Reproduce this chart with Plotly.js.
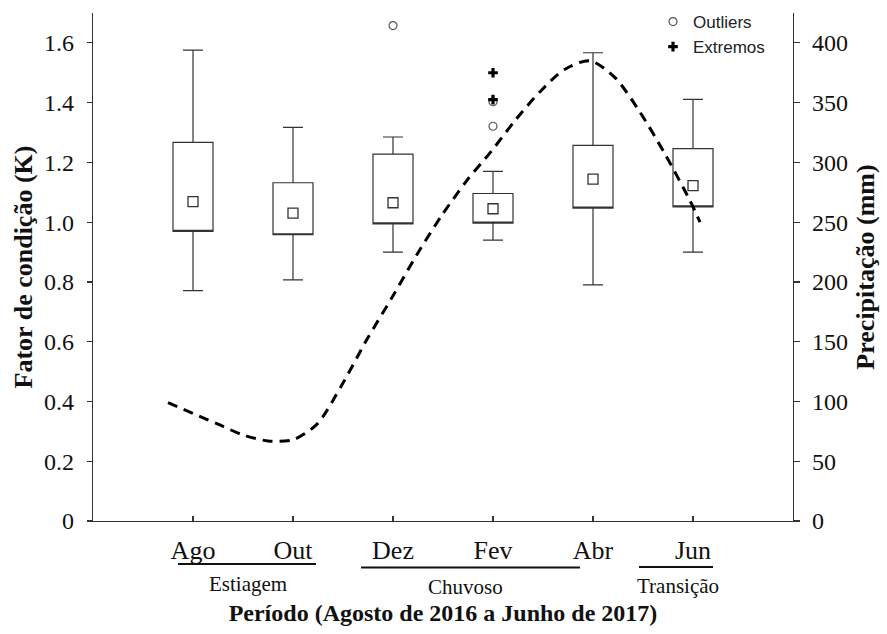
<!DOCTYPE html>
<html>
<head>
<meta charset="utf-8">
<script src="https://cdn.plot.ly/plotly-3.0.1.min.js"></script>
<style>html,body{margin:0;padding:0;background:#fff;}#chart{width:887px;height:634px;}</style>
</head>
<body>
<div id="chart"></div>
<script>
// ---- data ----
const categories = ['Ago', 'Out', 'Dez', 'Fev', 'Abr', 'Jun'];
const catPos = [0, 1, 2, 3, 4, 5];
const q1 = [0.969, 0.958, 0.994, 0.997, 1.047, 1.051];
const q3 = [1.267, 1.132, 1.228, 1.096, 1.257, 1.246];
const lowerWhisker = [0.771, 0.807, 0.900, 0.940, 0.790, 0.900];
const upperWhisker = [1.576, 1.317, 1.285, 1.170, 1.567, 1.411];
const meanK = [1.069, 1.030, 1.065, 1.045, 1.144, 1.122];
const outlierPos = [2, 3, 3];
const outlierK = [1.658, 1.403, 1.321];
const extremePos = [3, 3];
const extremeK = [1.500, 1.410];
const precipPos = [-0.25, 0, 0.25, 0.5, 0.75, 1.0, 1.24, 1.49, 1.74, 1.99, 2.24, 2.49, 2.74, 2.98, 3.23, 3.48, 3.72, 3.97, 4.22, 4.47, 4.72, 4.97, 5.07];
const precipMm = [99, 90, 81, 72, 67, 68, 81, 114, 152, 187, 223, 256, 285, 309, 336, 360, 378, 385, 371, 342, 307, 268, 250];
const leftTicks = [0, 0.2, 0.4, 0.6, 0.8, 1.0, 1.2, 1.4, 1.6];
const leftTickText = ['0', '0.2', '0.4', '0.6', '0.8', '1.0', '1.2', '1.4', '1.6'];
const rightTicks = [0, 50, 100, 150, 200, 250, 300, 350, 400];
const groupNames = ['Estiagem', 'Chuvoso', 'Transição'];

// ---- layout helpers ----
const PLOT_TOP = 13, PLOT_BOTTOM = 521;
const py = p => (PLOT_BOTTOM - p) / (PLOT_BOTTOM - PLOT_TOP);
const serif = '"Liberation Serif", "Times New Roman", serif';
const ink = '#333333';

const traces = [
  {
    type: 'box', name: 'K', x: catPos, q1: q1, median: q1, q3: q3,
    lowerfence: lowerWhisker, upperfence: upperWhisker,
    width: 0.4, whiskerwidth: 0.5, boxpoints: false,
    fillcolor: '#ffffff', line: {color: ink, width: 1.2},
    showlegend: false, hoverinfo: 'skip'
  },
  {
    type: 'scatter', mode: 'markers', x: catPos, y: meanK, showlegend: false,
    marker: {symbol: 'square-open', size: 10, color: ink, line: {width: 1.3, color: ink}}
  },
  {
    type: 'scatter', mode: 'lines', x: precipPos, y: precipMm, yaxis: 'y2', showlegend: false,
    line: {color: '#000', width: 3, dash: '10px,7px', shape: 'spline', smoothing: 0.8}
  },
  {
    type: 'scatter', mode: 'markers', name: 'Outliers', x: outlierPos, y: outlierK,
    marker: {symbol: 'circle-open', size: 8, color: '#555', line: {width: 1.2, color: '#555'}}
  },
  {
    type: 'scatter', mode: 'markers', name: 'Extremos', x: extremePos, y: extremeK,
    marker: {symbol: 'cross', size: 8, color: '#000', line: {width: 0}}
  }
];

const groupSpans = [[-0.15, 1.23, 564], [1.68, 3.87, 567.5], [4.46, 5.2, 567]];
const groupLabelPos = [[0.55, 583.5], [2.72, 587], [4.85, 586]];

const shapes = groupSpans.map(g => ({
  type: 'line', xref: 'x', yref: 'paper', x0: g[0], x1: g[1], y0: py(g[2]), y1: py(g[2]),
  line: {color: '#111', width: 2.2}
}));
const annotations = groupNames.map((n, i) => ({
  text: n, xref: 'x', yref: 'paper', x: groupLabelPos[i][0], y: py(groupLabelPos[i][1]),
  xanchor: 'center', yanchor: 'middle', showarrow: false,
  font: {family: serif, size: 21, color: '#111'}
}));

const layout = {
  width: 887, height: 634,
  margin: {l: 93, r: 94, t: PLOT_TOP, b: 634 - PLOT_BOTTOM, pad: 0, autoexpand: false},
  paper_bgcolor: '#fff', plot_bgcolor: '#fff',
  showlegend: true,
  legend: {
    x: 0.80, y: py(4), xanchor: 'left', yanchor: 'top',
    font: {family: '"Liberation Sans", Arial, sans-serif', size: 17, color: '#222'},
    bgcolor: 'rgba(0,0,0,0)', itemwidth: 30, tracegroupgap: 0
  },
  xaxis: {
    range: [-1, 6], tickvals: catPos, ticktext: categories,
    ticks: 'inside', ticklen: 5, tickcolor: ink, tickwidth: 1.2,
    showline: true, linecolor: ink, linewidth: 1.3, showgrid: false, zeroline: false,
    tickfont: {family: serif, size: 26, color: '#111'}, ticklabelstandoff: 5,
    title: {text: '<b>Período (Agosto de 2016 a Junho de 2017)</b>', font: {family: serif, size: 24, color: '#111'}, standoff: 40}
  },
  yaxis: {
    range: [0, 1.7], tickvals: leftTicks, ticktext: leftTickText,
    ticks: 'outside', ticklen: 5, tickcolor: ink, tickwidth: 1.2,
    showline: true, linecolor: ink, linewidth: 1.3, showgrid: false, zeroline: false,
    tickfont: {family: serif, size: 24, color: '#111'}, ticklabelstandoff: 8,
    title: {text: '<b>Fator de condição (K)</b>', font: {family: serif, size: 26, color: '#111'}, standoff: 3}
  },
  yaxis2: {
    overlaying: 'y', side: 'right', range: [0, 425], tickvals: rightTicks,
    ticks: 'outside', ticklen: 6, tickcolor: ink, tickwidth: 1.2,
    showline: true, linecolor: ink, linewidth: 1.3, showgrid: false, zeroline: false,
    tickfont: {family: serif, size: 24, color: '#111'}, ticklabelstandoff: 7,
    title: {text: '<b>Precipitação (mm)</b>', font: {family: serif, size: 26, color: '#111'}, standoff: 8}
  },
  shapes: shapes,
  annotations: annotations
};

Plotly.newPlot('chart', traces, layout, {displayModeBar: false, staticPlot: true});
</script>
</body>
</html>
